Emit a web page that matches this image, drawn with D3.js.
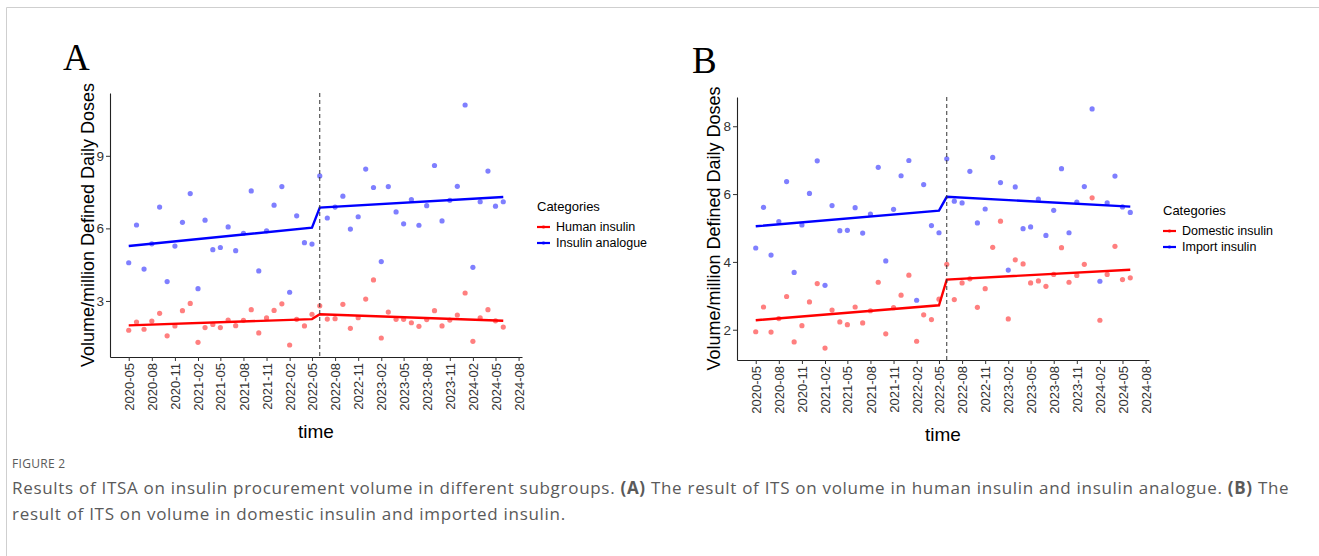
<!DOCTYPE html>
<html>
<head>
<meta charset="utf-8">
<script src="https://cdn.jsdelivr.net/npm/d3@7"></script>
<style>
  body { margin: 0; background: #fff; }
  svg text { font-family: "Liberation Sans", Arial, sans-serif; }
</style>
</head>
<body>
<script>
// ---- data ----
var months = ["2020-05","2020-06","2020-07","2020-08","2020-09","2020-10","2020-11","2020-12",
  "2021-01","2021-02","2021-03","2021-04","2021-05","2021-06","2021-07","2021-08","2021-09","2021-10","2021-11","2021-12",
  "2022-01","2022-02","2022-03","2022-04","2022-05","2022-06","2022-07","2022-08","2022-09","2022-10","2022-11","2022-12",
  "2023-01","2023-02","2023-03","2023-04","2023-05","2023-06","2023-07","2023-08","2023-09","2023-10","2023-11","2023-12",
  "2024-01","2024-02","2024-03","2024-04","2024-05","2024-06"];
var tickLabels = ["2020-05","2020-08","2020-11","2021-02","2021-05","2021-08","2021-11","2022-02","2022-05",
  "2022-08","2022-11","2023-02","2023-05","2023-08","2023-11","2024-02","2024-05","2024-08"];
var interruption = "2022-06";

var humanInsulin = [1.79,2.13,1.83,2.17,2.49,1.56,1.97,2.60,2.90,1.29,1.90,2.03,1.90,2.21,1.98,2.20,2.64,1.68,2.30,2.61,2.88,1.18,2.24,1.97,2.45,
  2.80,2.25,2.27,2.86,1.87,2.31,3.08,3.87,1.47,2.54,2.24,2.24,2.10,1.95,2.23,2.60,1.97,2.21,2.42,3.33,1.33,2.30,2.64,2.18,1.92];
var insulinAnalogue = [4.58,6.14,4.32,5.36,6.88,3.80,5.27,6.25,7.44,3.51,6.34,5.12,5.21,6.06,5.08,5.80,7.55,4.24,5.90,6.96,7.73,3.36,6.52,5.41,5.35,
  8.17,6.43,6.88,7.33,5.97,6.48,8.45,7.69,4.63,7.73,6.68,6.19,7.19,6.13,6.94,8.60,6.31,7.16,7.74,11.10,4.39,7.10,8.37,6.92,7.10];
var domesticInsulin = [1.94,2.67,1.93,2.33,2.98,1.64,2.12,2.82,3.36,1.46,2.58,2.23,2.15,2.67,2.20,2.56,3.40,1.88,2.65,3.02,3.61,1.66,2.44,2.30,2.90,
  3.93,2.89,3.38,3.50,2.66,3.21,4.43,5.20,2.32,4.06,3.94,3.38,3.44,3.28,3.63,4.42,3.40,3.60,3.93,5.89,2.28,3.63,4.46,3.48,3.53];
var importInsulin = [4.41,5.61,4.20,5.19,6.37,3.69,5.09,6.02,6.98,3.31,5.66,4.92,4.93,5.60,4.85,5.41,6.79,4.03,5.55,6.54,6.99,2.87,6.28,5.07,4.86,
  7.04,5.79,5.74,6.67,5.15,5.56,7.08,6.34,3.76,6.21,4.98,5.03,5.85,4.78,5.52,6.75,4.86,5.76,6.22,8.51,3.43,5.74,6.53,5.62,5.46];

// fitted segmented regression: start/end of pre and post segments
var fitMonths = ["2020-05","2022-05","2022-06","2024-06"];
var fitHuman = [1.99,2.25,2.45,2.18];
var fitAnalogue = [5.27,6.03,6.86,7.30];
var fitDomestic = [2.28,2.72,3.48,3.77];
var fitImport = [5.05,5.51,5.92,5.63];

var yTicksA = [3,6,9];
var yTicksB = [2,4,6,8];

var captionHead = "FIGURE 2";

// ---- layout ----
var W = 1319, H = 556;
var parseMonth = d3.timeParse("%Y-%m");
var fmtMonth = d3.timeFormat("%Y-%m");

var svg = d3.select("body").append("svg")
  .attr("width", W)
  .attr("height", H);

// figure frame
svg.append("line").attr("x1", 6.5).attr("x2", W).attr("y1", 7.5).attr("y2", 7.5)
  .attr("stroke", "#cfcfcf").attr("stroke-width", 1);
svg.append("line").attr("x1", 6.5).attr("x2", 6.5).attr("y1", 7.5).attr("y2", H)
  .attr("stroke", "#cfcfcf").attr("stroke-width", 1);

function drawPanel(p) {
  var dates = months.map(parseMonth);
  var t0 = dates[0].getTime(), t1 = dates[dates.length-1].getTime();
  var padT = (t1 - t0) * 0.05;
  var x = d3.scaleTime()
    .domain([new Date(t0 - padT), new Date(t1 + padT)])
    .range([p.left, p.right]);

  var allVals = p.series[0].values.concat(p.series[1].values);
  var lo = d3.min(allVals), hi = d3.max(allVals);
  var padV = (hi - lo) * 0.05;
  var y = d3.scaleLinear()
    .domain([lo - padV, hi + padV])
    .range([p.bottom, p.top]);

  var g = svg.append("g");

  // points
  p.series.forEach(function(s) {
    g.selectAll(null)
      .data(s.values)
      .enter().append("circle")
        .attr("cx", function(d, i) { return x(dates[i]); })
        .attr("cy", function(d) { return y(d); })
        .attr("r", 2.6)
        .attr("fill", s.color)
        .attr("fill-opacity", 0.5);
  });

  // fitted lines
  var line = d3.line()
    .x(function(d) { return x(parseMonth(d.m)); })
    .y(function(d) { return y(d.v); });
  p.series.forEach(function(s) {
    g.append("path")
      .datum(fitMonths.map(function(m, i) { return {m: m, v: s.fit[i]}; }))
      .attr("d", line)
      .attr("fill", "none")
      .attr("stroke", s.color)
      .attr("stroke-width", 2.4);
  });

  // interruption
  g.append("line")
    .attr("x1", x(parseMonth(interruption))).attr("x2", x(parseMonth(interruption)))
    .attr("y1", p.top).attr("y2", p.bottom)
    .attr("stroke", "#333")
    .attr("stroke-width", 1)
    .attr("stroke-dasharray", "4,3");

  // axes
  var xAxis = d3.axisBottom(x)
    .tickValues(tickLabels.map(parseMonth))
    .tickFormat(fmtMonth)
    .tickSize(4)
    .tickSizeOuter(0);
  var gx = svg.append("g")
    .attr("transform", "translate(0," + p.bottom + ")")
    .call(xAxis);
  gx.selectAll("text")
    .attr("y", 0)
    .attr("x", -6)
    .attr("dy", "0.35em")
    .attr("transform", "rotate(-90)")
    .style("text-anchor", "end")
    .style("font-size", "13px")
    .attr("fill", "#333");

  var yAxis = d3.axisLeft(y)
    .tickValues(p.yTicks)
    .tickSize(4)
    .tickPadding(2)
    .tickSizeOuter(0);
  var gy = svg.append("g")
    .attr("transform", "translate(" + p.left + ",0)")
    .call(yAxis);
  gy.selectAll("text")
    .style("font-size", "13.5px")
    .attr("fill", "#333");

  [gx, gy].forEach(function(a) {
    a.select(".domain").attr("stroke", "#222").attr("stroke-width", 1.1);
    a.selectAll(".tick line").attr("stroke", "#333");
  });

  // axis titles
  svg.append("text")
    .attr("x", (p.left + p.right) / 2)
    .attr("y", p.xTitleY)
    .attr("text-anchor", "middle")
    .style("font-size", "19px")
    .text("time");
  svg.append("text")
    .attr("transform", "translate(" + p.yTitleX + "," + ((p.top + p.bottom) / 2) + ") rotate(-90)")
    .attr("text-anchor", "middle")
    .style("font-size", "18px")
    .text("Volume/million Defined Daily Doses");

  // panel letter
  svg.append("text")
    .attr("x", p.letterX)
    .attr("y", p.letterY)
    .style("font-family", "'Liberation Serif', 'DejaVu Serif', serif")
    .style("font-size", "37px")
    .text(p.letter);

  // legend
  var lg = svg.append("g").attr("transform", "translate(" + p.legX + "," + p.legY + ")");
  lg.append("text")
    .attr("x", 0).attr("y", 0)
    .style("font-size", "13px")
    .text("Categories");
  p.series.forEach(function(s, i) {
    var ly = 16 + i * 16;
    lg.append("line")
      .attr("x1", 0).attr("x2", 13)
      .attr("y1", ly).attr("y2", ly)
      .attr("stroke", s.color).attr("stroke-width", 2.2);
    lg.append("circle")
      .attr("cx", 6.5).attr("cy", ly).attr("r", 1.8)
      .attr("fill", s.color).attr("fill-opacity", 0.6);
    lg.append("text")
      .attr("x", 19).attr("y", ly)
      .attr("dy", "0.35em")
      .style("font-size", "12.5px")
      .text(s.name);
  });
}

drawPanel({
  letter: "A", letterX: 63, letterY: 70,
  left: 110, right: 522, top: 93, bottom: 357,
  yTicks: yTicksA, xTitleY: 438, yTitleX: 94,
  legX: 537, legY: 211,
  series: [
    {name: "Human insulin", values: humanInsulin, fit: fitHuman, color: "red"},
    {name: "Insulin analogue", values: insulinAnalogue, fit: fitAnalogue, color: "blue"}
  ]
});

drawPanel({
  letter: "B", letterX: 692, letterY: 73,
  left: 737, right: 1149, top: 97, bottom: 360,
  yTicks: yTicksB, xTitleY: 441, yTitleX: 720,
  legX: 1163, legY: 215,
  series: [
    {name: "Domestic insulin", values: domesticInsulin, fit: fitDomestic, color: "red"},
    {name: "Import insulin", values: importInsulin, fit: fitImport, color: "blue"}
  ]
});

// caption
var cap = svg.append("g").style("fill", "#5a5a5a");
cap.append("text")
  .attr("x", 12).attr("y", 468)
  .style("font-family", "'Open Sans', sans-serif")
  .style("font-size", "12px")
  .style("letter-spacing", "0.3px")
  .text(captionHead);
var l1 = cap.append("text")
  .attr("x", 12).attr("y", 494)
  .style("font-family", "'Open Sans', sans-serif")
  .style("font-size", "17px")
  .style("letter-spacing", "0.7px");
l1.append("tspan").text("Results of ITSA on insulin procurement volume in different subgroups. ");
l1.append("tspan").style("font-weight", "bold").text("(A)");
l1.append("tspan").text(" The result of ITS on volume in human insulin and insulin analogue. ");
l1.append("tspan").style("font-weight", "bold").text("(B)");
l1.append("tspan").text(" The");
cap.append("text")
  .attr("x", 12).attr("y", 520)
  .style("font-family", "'Open Sans', sans-serif")
  .style("font-size", "17px")
  .style("letter-spacing", "0.7px")
  .text("result of ITS on volume in domestic insulin and imported insulin.");
</script>
</body>
</html>
